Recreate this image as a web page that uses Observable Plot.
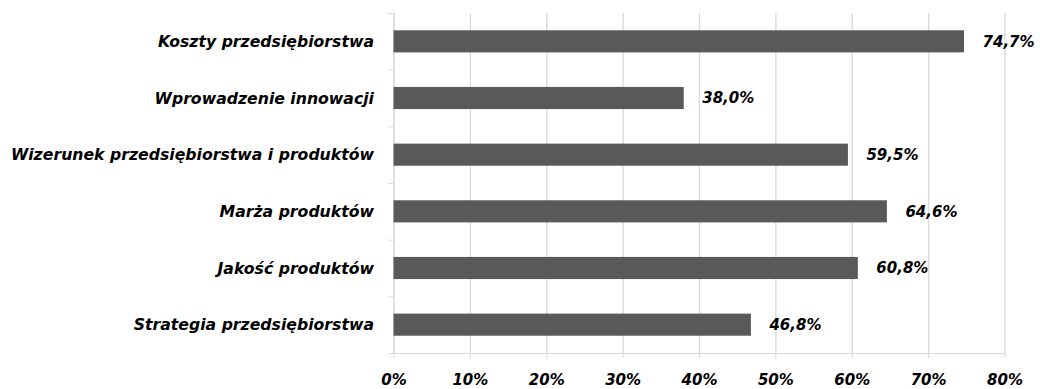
<!DOCTYPE html>
<html><head><meta charset="utf-8">
<script src="https://cdn.jsdelivr.net/npm/d3@7"></script>
<script src="https://cdn.jsdelivr.net/npm/@observablehq/plot@0.6"></script>
<style>
html,body{margin:0;padding:0;background:#fff}
#chart svg text{font-family:"DejaVu Sans",sans-serif;font-size:15px;font-weight:bold;font-style:italic;fill:#000}
#chart svg g.cat-labels text{font-size:15.7px}
</style></head><body><div id="chart"></div>
<script>
const categories = [
  "Koszty przedsiębiorstwa",
  "Wprowadzenie innowacji",
  "Wizerunek przedsiębiorstwa i produktów",
  "Marża produktów",
  "Jakość produktów",
  "Strategia przedsiębiorstwa"
];
const values = [74.7, 38.0, 59.5, 64.6, 60.8, 46.8];
const xTicks = [0, 10, 20, 30, 40, 50, 60, 70, 80];

const data = categories.map((cat, i) => ({cat, value: values[i], i}));
const boundaries = d3.range(-0.5, categories.length, 1);
const barHalf = 0.195;
const fmt = v => v.toFixed(1).replace(".", ",") + "%";

const chart = Plot.plot({
  width: 1040, height: 389,
  marginLeft: 393.5, marginRight: 35.5, marginTop: 13, marginBottom: 36,
  x: {domain: [0, 80], ticks: xTicks, tickFormat: d => d + "%", tickSize: 5, tickPadding: 16, line: true, label: null},
  y: {domain: [-0.5, categories.length - 0.5], reverse: true, ticks: boundaries, tickFormat: () => "", tickSize: 5, line: true, label: null},
  style: {color: "#d9d9d9", background: "#fff", overflow: "visible"},
  marks: [
    Plot.ruleX(xTicks, {stroke: "#d9d9d9", strokeWidth: 1.3}),
    Plot.rectX(data, {x1: 0, x2: "value", y1: d => d.i - barHalf, y2: d => d.i + barHalf, fill: "#595959"}),
    Plot.text(data, {x: 0, y: "i", text: "cat", textAnchor: "end", dx: -20, className: "cat-labels"}),
    Plot.text(data, {x: "value", y: "i", text: d => fmt(d.value), textAnchor: "start", dx: 18})
  ]
});
document.getElementById("chart").appendChild(chart);
</script></body></html>
